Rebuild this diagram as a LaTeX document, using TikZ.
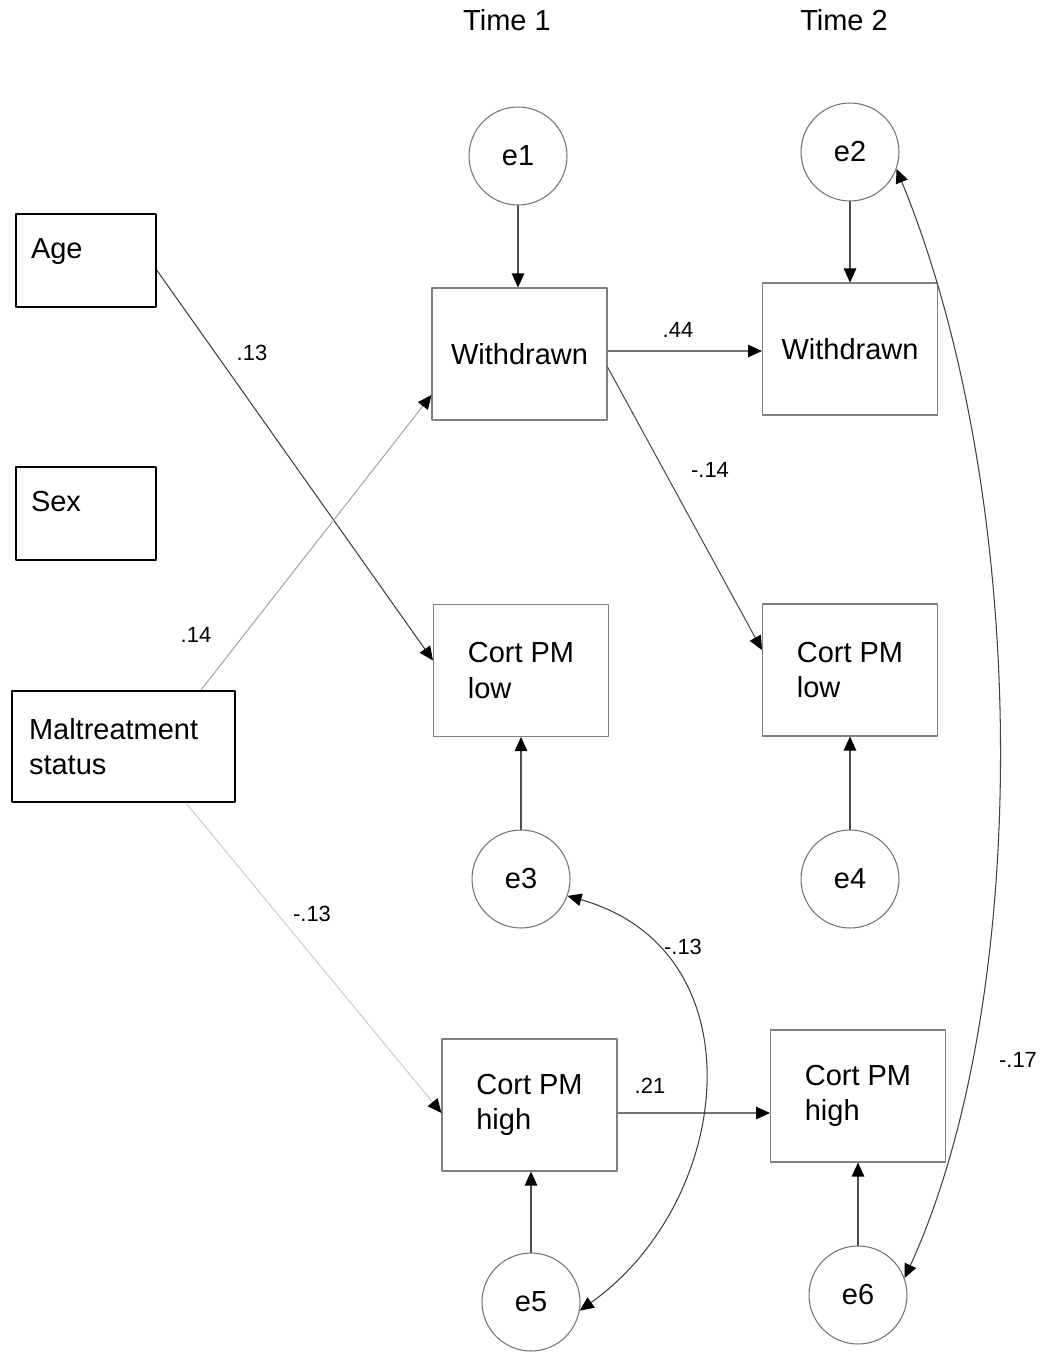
\documentclass[tikz,border=0pt]{standalone}
\usepackage{fontspec}
\setmainfont{Liberation Sans}
\usetikzlibrary{arrows.meta}

\begin{document}
\begin{tikzpicture}[x=0.02cm,y=0.02cm,>={Triangle[length=0.28cm,width=0.25cm,color=black]},
  line cap=round,line join=round,
  txt/.style={font=\fontsize{16.5}{20}\selectfont},
  coef/.style={font=\fontsize{12.5}{15}\selectfont},
  obs/.style={txt,draw=black!50,line width=0.6pt,minimum width=3.5cm,minimum height=2.64cm,align=left,inner sep=0pt},
  exo/.style={txt,draw=black,line width=1.2pt,minimum width=2.8cm,minimum height=1.86cm,align=left,inner sep=0pt},
  err/.style={txt,circle,draw=black!55,line width=0.6pt,minimum size=1.96cm,inner sep=0pt},
  reg/.style={->,line width=0.6pt,draw=black!70}]
  \useasboundingbox (0,0) rectangle (1045,-1355);

  % time headers
  \node[txt] (time1) at (507,-20) {Time 1};
  \node[txt] (time2) at (844,-20) {Time 2};

  % exogenous variables
  \node[exo,text width=2.2cm,text depth=0.48cm] (age) at (86,-260.5) {Age};
  \node[exo,text width=2.2cm,text depth=0.48cm] (sex) at (86,-513.5) {Sex};
  \node[exo,text width=3.78cm,minimum width=4.46cm,minimum height=2.22cm] (malt) at (123.5,-746.5) {Maltreatment\\status};

  % observed variables
  \node[obs] (wd1) at (519.5,-354) {Withdrawn};
  \node[obs] (wd2) at (850,-349) {Withdrawn};
  \node[obs] (low1) at (521,-670.5) {Cort PM\\low};
  \node[obs] (low2) at (850,-670) {Cort PM\\low};
  \node[obs] (high1) at (529.5,-1105) {Cort PM\\high};
  \node[obs] (high2) at (858,-1096) {Cort PM\\high};

  % residuals
  \node[err] (e1) at (518,-156) {e1};
  \node[err] (e2) at (850,-152) {e2};
  \node[err] (e3) at (521,-879) {e3};
  \node[err] (e4) at (850,-879) {e4};
  \node[err] (e5) at (531,-1302) {e5};
  \node[err] (e6) at (858,-1295) {e6};

  \draw[reg] (e1.south) -- (e1.south |- wd1.north);
  \draw[reg] (e2.south) -- (e2.south |- wd2.north);
  \draw[reg] (e3.north) -- (e3.north |- low1.south);
  \draw[reg] (e4.north) -- (e4.north |- low2.south);
  \draw[reg] (e5.north) -- (e5.north |- high1.south);
  \draw[reg] (e6.north) -- (e6.north |- high2.south);

  % paths
  \draw[reg,draw=black!75] ([yshift=-0.2cm]age.east) -- ([yshift=0.2cm]low1.west);
  \draw[reg,draw=black!35] ([xshift=-0.7cm]malt.north east) -- ([yshift=-0.82cm]wd1.west);
  \draw[reg,draw=black!20] ([xshift=-1cm]malt.south east) -- ([yshift=-0.16cm]high1.west);
  \draw[reg,draw=black!55] ([yshift=0.06cm]wd1.east) -- ([yshift=0.06cm]wd1.east -| wd2.west);
  \draw[reg] ([yshift=-0.26cm]wd1.east) -- ([yshift=0.4cm]low2.west);
  \draw[reg,draw=black!55] ([yshift=-0.16cm]high1.east) -- ([yshift=-0.16cm]high1.east -| high2.west);

  % residual covariances
  \draw[<->,line width=0.6pt,draw=black!75] (e3.-20) .. controls (760,-950) and (735,-1200) .. (e5.-10);
  \draw[<->,line width=0.6pt,draw=black!75] (e2.-20) .. controls (1032,-500) and (1032,-1000) .. (e6.20);

  % coefficients
  \node[coef] (b1) at (252,-353) {.13};
  \node[coef] (b2) at (196,-635) {.14};
  \node[coef] (b3) at (312,-914) {-.13};
  \node[coef] (b4) at (678,-330) {.44};
  \node[coef] (b5) at (710,-470) {-.14};
  \node[coef] (b6) at (683,-947) {-.13};
  \node[coef] (b7) at (650,-1086) {.21};
  \node[coef] (b8) at (1018,-1060) {-.17};
\end{tikzpicture}
\end{document}
